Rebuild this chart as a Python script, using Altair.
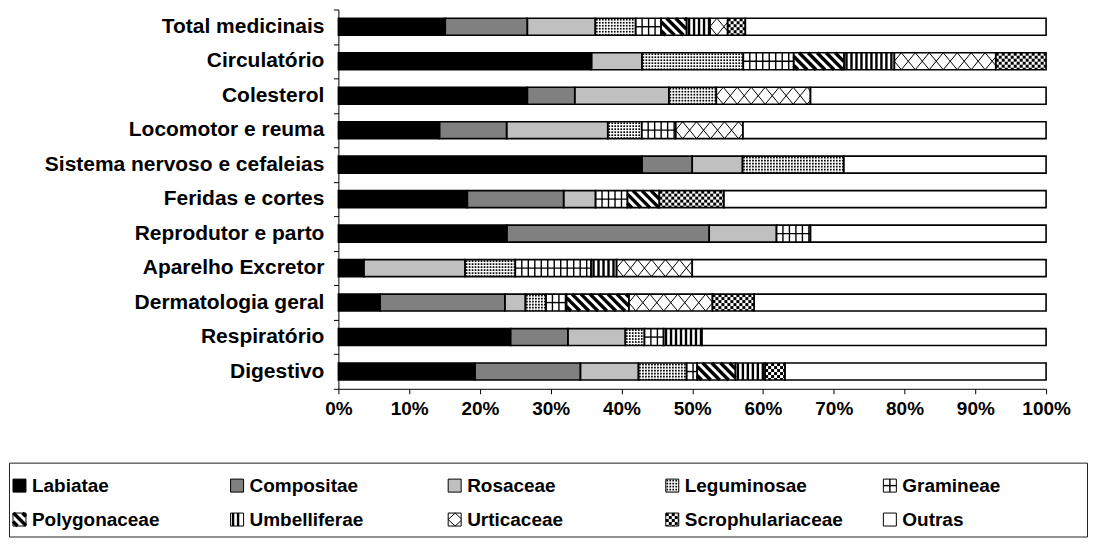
import altair as alt
import pandas as pd

# ---------------- data (percent of species per family, by use category) ----------------
categories = [
    "Total medicinais", "Circulatório", "Colesterol", "Locomotor e reuma",
    "Sistema nervoso e cefaleias", "Feridas e cortes", "Reprodutor e parto",
    "Aparelho Excretor", "Dermatologia geral", "Respiratório", "Digestivo",
]
families = [
    "Labiatae", "Compositae", "Rosaceae", "Leguminosae", "Gramineae",
    "Polygonaceae", "Umbelliferae", "Urticaceae", "Scrophulariaceae", "Outras",
]
labiatae = [15.1, 35.7, 26.7, 14.3, 42.9, 18.2, 23.8, 3.6, 5.9, 24.3, 19.3]
compositae = [11.6, 0, 6.7, 9.5, 7.1, 13.6, 28.6, 0, 17.6, 8.1, 14.9]
rosaceae = [9.6, 7.1, 13.3, 14.3, 7.1, 4.5, 9.5, 14.3, 2.9, 8.1, 8.2]
leguminosae = [5.7, 14.3, 6.7, 4.8, 14.3, 0, 0, 7.1, 2.9, 2.7, 6.8]
gramineae = [3.6, 7.1, 0, 4.8, 0, 4.5, 4.8, 10.7, 2.9, 2.7, 1.5]
polygonaceae = [3.6, 7.1, 0, 0, 0, 4.5, 0, 0, 8.8, 0, 5.4]
umbelliferae = [3.3, 7.1, 0, 0, 0, 0, 0, 3.6, 0, 5.4, 4.2]
urticaceae = [2.5, 14.3, 13.3, 9.5, 0, 0, 0, 10.7, 11.8, 0, 0]
scrophulariaceae = [2.5, 7.1, 0, 0, 0, 9.1, 0, 0, 5.9, 0, 2.8]
outras = [42.5, 0, 33.3, 42.9, 28.6, 45.5, 33.3, 50.0, 41.2, 48.6, 36.9]

series = [labiatae, compositae, rosaceae, leguminosae, gramineae,
          polygonaceae, umbelliferae, urticaceae, scrophulariaceae, outras]

records = []
for i, cat in enumerate(categories):
    for j, fam in enumerate(families):
        records.append({"cat": cat, "row": i, "fam": fam, "ford": j, "value": series[j][i]})
df = pd.DataFrame(records)
cat_df = pd.DataFrame({"cat": categories})
legend_df = pd.DataFrame({"fam": families})

# ---------------- styling constants ----------------
FONT = "Liberation Sans"
PLOT_W, PLOT_H = 709, 380
N = len(categories)
KX_M = float(PLOT_W)          # px per x unit (x is a 0..1 fraction)
KY_M = PLOT_H / N             # px per row
HALF_M = 8.5                  # half bar height in px
LABEL_W = 316

LEG_W, LEG_H = 1080, 74
KX_L = 218.0
KY_L = 34.0
SQ = 13.0
HALF_L = SQ / 2

bg_range = ["#000000", "#808080", "#c0c0c0"] + ["#ffffff"] * 7


def build_layers(base, KX, KY, half_px, ex, ey, outline_w):
    layers = []
    layers.append(
        base.mark_rect().encode(
            x=ex("x0"), x2=alt.X2("x1"), y=ey("yt"), y2=alt.Y2("yb"),
            color=alt.Color("fam:N", scale=alt.Scale(domain=families, range=bg_range), legend=None),
        )
    )

    def cells(fam, pitch, size, checker):
        px, py = pitch / KX, pitch / KY
        c = base.transform_filter(alt.datum.fam == fam)
        c = c.transform_calculate(sx=f"sequence(datum.x0, datum.x1 - {0.3 / KX}, {px})")
        c = c.transform_flatten(["sx"])
        c = c.transform_calculate(sy=f"sequence(datum.yt, datum.yb - {0.3 / KY}, {py})")
        c = c.transform_flatten(["sy"])
        if checker:
            c = c.transform_filter(
                f"(round((datum.sx - datum.x0) / {px}) + round((datum.sy - datum.yt) / {py})) % 2 == 0")
            c = c.transform_calculate(ra="datum.sx")
            c = c.transform_calculate(rb=f"min(datum.sx + {px}, datum.x1)")
            c = c.transform_calculate(rc="datum.sy")
            c = c.transform_calculate(rd=f"min(datum.sy + {py}, datum.yb)")
        else:
            off = (pitch - size) / 2
            c = c.transform_calculate(ra=f"datum.sx + {off / KX}")
            c = c.transform_calculate(rb=f"min(datum.ra + {size / KX}, datum.x1)")
            c = c.transform_calculate(rc=f"datum.sy + {off / KY}")
            c = c.transform_calculate(rd=f"min(datum.rc + {size / KY}, datum.yb)")
        return c.mark_rect(color="black").encode(
            x=ex("ra"), x2=alt.X2("rb"), y=ey("rc"), y2=alt.Y2("rd"))

    def vlines(fam, pitch, sw, start_frac):
        p = pitch / KX
        c = base.transform_filter(alt.datum.fam == fam)
        c = c.transform_calculate(s=f"sequence(datum.x0 + {p * start_frac}, datum.x1 - {0.8 / KX}, {p})")
        c = c.transform_flatten(["s"])
        return c.mark_rule(color="black", strokeWidth=sw).encode(
            x=ex("s"), y=ey("yt"), y2=alt.Y2("yb"))

    def hline(fam, sw):
        c = base.transform_filter(alt.datum.fam == fam)
        return c.mark_rule(color="black", strokeWidth=sw).encode(
            x=ex("x0"), x2=alt.X2("x1"), y=ey("yc"))

    def diag(fam, pitch, run, sw, down):
        p, r = pitch / KX, run / KX
        c = base.transform_filter(alt.datum.fam == fam)
        c = c.transform_calculate(s=f"sequence(datum.x0 - {r} + {p / 2}, datum.x1, {p})")
        c = c.transform_flatten(["s"])
        c = c.transform_calculate(xa="max(datum.s, datum.x0)")
        c = c.transform_calculate(xb=f"min(datum.s + {r}, datum.x1)")
        c = c.transform_filter("datum.xb > datum.xa")
        c = c.transform_calculate(ta=f"(datum.xa - datum.s) / {r}")
        c = c.transform_calculate(tb=f"(datum.xb - datum.s) / {r}")
        if down:
            c = c.transform_calculate(ya="datum.yt + datum.ta * (datum.yb - datum.yt)")
            c = c.transform_calculate(yz="datum.yt + datum.tb * (datum.yb - datum.yt)")
        else:
            c = c.transform_calculate(ya="datum.yb - datum.ta * (datum.yb - datum.yt)")
            c = c.transform_calculate(yz="datum.yb - datum.tb * (datum.yb - datum.yt)")
        return c.mark_rule(color="black", strokeWidth=sw).encode(
            x=ex("xa"), x2=alt.X2("xb"), y=ey("ya"), y2=alt.Y2("yz"))

    layers.append(cells("Leguminosae", 3.0, 1.7, False))
    layers.append(vlines("Gramineae", 6.5, 1.4, 1.0))
    layers.append(hline("Gramineae", 1.4))
    layers.append(diag("Polygonaceae", 9.0, 2 * half_px, 3.4, True))
    layers.append(vlines("Umbelliferae", 5.0, 2.4, 0.5))
    layers.append(diag("Urticaceae", 14.0, 14.0, 1.0, True))
    layers.append(diag("Urticaceae", 14.0, 14.0, 1.0, False))
    layers.append(cells("Scrophulariaceae", 3.0, 3.0, True))
    layers.append(
        base.mark_rect(fill="white", fillOpacity=0, stroke="black", strokeWidth=outline_w).encode(
            x=ex("x0"), x2=alt.X2("x1"), y=ey("yt"), y2=alt.Y2("yb"))
    )
    return layers


# ---------------- main chart ----------------
x_scale = alt.Scale(domain=[0, 1], nice=False, zero=False)
y_scale = alt.Scale(domain=[-0.5, N - 0.5], reverse=True, nice=False, zero=False)

x_axis = alt.Axis(
    values=[k / 10 for k in range(11)], format=".0%", title=None, grid=False,
    labelFont=FONT, labelFontSize=19, labelFontWeight="bold", labelColor="black",
    tickColor="black", domainColor="black", tickSize=5, labelPadding=6,
    labelFlush=False, labelOverlap=False,
)
y_axis = alt.Axis(
    values=[k - 0.5 for k in range(N + 1)], title=None, grid=False, labels=False,
    tickColor="black", domainColor="black", tickSize=5, minExtent=5, maxExtent=5,
)


def ex_m(f):
    return alt.X(f, type="quantitative", scale=x_scale, axis=x_axis)


def ey_m(f):
    return alt.Y(f, type="quantitative", scale=y_scale, axis=y_axis)


base_m = (
    alt.Chart(df)
    .transform_filter(alt.datum.value > 0)
    .transform_stack(stack="value", groupby=["cat"], as_=["x0", "x1"], offset="normalize",
                     sort=[alt.SortField("ford", order="ascending")])
    .transform_calculate(yc="datum.row")
    .transform_calculate(yt=f"datum.row - {HALF_M / KY_M}")
    .transform_calculate(yb=f"datum.row + {HALF_M / KY_M}")
)

main = alt.layer(*build_layers(base_m, KX_M, KY_M, HALF_M, ex_m, ey_m, 1.6)).properties(
    width=PLOT_W, height=PLOT_H, view=alt.ViewBackground(stroke=None)
)

# category labels (right-aligned column next to the plot)
labels = (
    alt.Chart(cat_df)
    .transform_window(idx="row_number()")
    .transform_calculate(row="datum.idx - 1")
    .transform_calculate(lx="1")
    .mark_text(align="right", baseline="middle", font=FONT, fontSize=21, fontWeight="bold", color="black")
    .encode(
        x=alt.X("lx:Q", scale=alt.Scale(domain=[0, 1], nice=False), axis=None),
        y=alt.Y("row:Q", scale=y_scale, axis=None),
        text="cat:N",
    )
    .properties(width=LABEL_W, height=PLOT_H, view=alt.ViewBackground(stroke=None))
)

# ---------------- legend (custom, patterned) ----------------
lx0 = -4.0 / KX_L
lx_scale = alt.Scale(domain=[lx0, lx0 + LEG_W / KX_L], nice=False, zero=False)
ly0 = -23.0 / KY_L
ly_scale = alt.Scale(domain=[ly0, ly0 + LEG_H / KY_L], reverse=True, nice=False, zero=False)


def ex_l(f):
    return alt.X(f, type="quantitative", scale=lx_scale, axis=None)


def ey_l(f):
    return alt.Y(f, type="quantitative", scale=ly_scale, axis=None)


base_l = (
    alt.Chart(legend_df)
    .transform_window(idx="row_number()")
    .transform_calculate(col="(datum.idx - 1) % 5")
    .transform_calculate(lrow="floor((datum.idx - 1) / 5)")
    .transform_calculate(x0="datum.col")
    .transform_calculate(x1=f"datum.col + {SQ / KX_L}")
    .transform_calculate(yc="datum.lrow")
    .transform_calculate(yt=f"datum.lrow - {HALF_L / KY_L}")
    .transform_calculate(yb=f"datum.lrow + {HALF_L / KY_L}")
    .transform_calculate(tx=f"datum.col + {19.0 / KX_L}")
)

legend_text = base_l.mark_text(
    align="left", baseline="middle", font=FONT, fontSize=19, fontWeight="bold", color="black"
).encode(x=ex_l("tx"), y=ey_l("yc"), text="fam:N")

legend = alt.layer(*build_layers(base_l, KX_L, KY_L, HALF_L, ex_l, ey_l, 1.0), legend_text).properties(
    width=LEG_W, height=LEG_H, view=alt.ViewBackground(stroke="#222222", strokeWidth=1)
)

top_row = alt.hconcat(labels, main, spacing=0)

chart = (
    alt.vconcat(top_row, legend, spacing=43)
    .properties(padding={"left": 0, "top": 0, "right": 0, "bottom": 0})
    .configure_view(stroke=None)
)

chart.save("out.html", embed_options={"renderer": "svg", "actions": False})
